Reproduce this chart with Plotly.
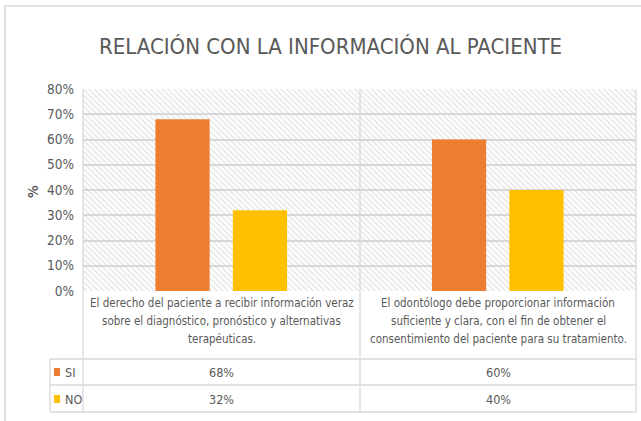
import plotly.graph_objects as go

title = "RELACIÓN CON LA INFORMACIÓN AL PACIENTE"
categories = [
    "El derecho del paciente a recibir información veraz<br>sobre el diagnóstico, pronóstico y alternativas<br>terapéuticas.",
    "El odontólogo debe proporcionar información<br>suficiente y clara, con el fin de obtener el<br>consentimiento del paciente para su tratamiento.",
]
series_names = ["SI", "NO"]
si_values = [0.68, 0.60]
no_values = [0.32, 0.40]
series_values = [si_values, no_values]
series_colors = ["#ED7D31", "#FFC000"]
y_ticks = [0, 0.1, 0.2, 0.3, 0.4, 0.5, 0.6, 0.7, 0.8]
y_max = 0.8

W, H = 641, 421
L, R, T, B = 83, 636, 89, 291
FONT = "DejaVu Sans Condensed, Liberation Sans Narrow, Arial Narrow, sans-serif"
TXT = "#595959"
GRID = "#D9D9D9"

def px(x):
    return (x - L) / (R - L)

def py(y):
    return (B - y) / (B - T)

fig = go.Figure()
# hatched plot-area background
fig.add_trace(go.Bar(
    x=[0.5], y=[y_max], width=[1], xaxis="x", yaxis="y",
    marker=dict(color="rgba(0,0,0,0)", line=dict(width=0),
                pattern=dict(shape="\\", fgcolor="#D0D0D0", bgcolor="rgba(0,0,0,0)",
                             size=4, solidity=0.4)),
    hoverinfo="skip", showlegend=False,
))
for name, vals, col in zip(series_names, series_values, series_colors):
    fig.add_trace(go.Bar(
        x=[0, 1], y=vals, name=name, xaxis="x2", yaxis="y",
        marker=dict(color=col, line=dict(width=0)), showlegend=False,
        hovertemplate="%{y:.0%}<extra>" + name + "</extra>",
    ))

shapes = []
def line(x0, y0, x1, y1, color=GRID, w=1.3):
    shapes.append(dict(type="line", xref="paper", yref="paper",
                       x0=px(x0), y0=py(y0), x1=px(x1), y1=py(y1),
                       line=dict(color=color, width=w), layer="above"))

# chart outer border
shapes.append(dict(type="rect", xref="paper", yref="paper",
                   x0=px(5), y0=py(6), x1=px(720), y1=py(440),
                   line=dict(color=GRID, width=1.5), layer="below"))
# vertical separators
line(L, T, L, 412)
line(360, T, 360, 412)
line(R, T, R, 412)
# table horizontal lines
line(50, 359, R, 359)
line(50, 385, R, 385)
line(50, 412, R, 412)
line(50, 359, 50, 412)

annotations = []
cat_centers = [(L + 360) / 2, (360 + R) / 2]
line_ys = [303, 321, 339]
for c, lab in zip(cat_centers, categories):
    for ly, part in zip(line_ys, lab.split("<br>")):
        annotations.append(dict(xref="paper", yref="paper", x=px(c), y=py(ly),
                                text=part, showarrow=False, xanchor="center", yanchor="middle",
                                font=dict(family=FONT, size=11.5, color=TXT)))
row_y = [372, 399]
for i, (name, vals, col) in enumerate(zip(series_names, series_values, series_colors)):
    ry = row_y[i]
    shapes.append(dict(type="rect", xref="paper", yref="paper",
                       x0=px(54), x1=px(60), y0=py(ry - 4), y1=py(ry + 4),
                       fillcolor=col, line=dict(width=0)))
    annotations.append(dict(xref="paper", yref="paper", x=px(63), y=py(ry),
                            text=name, showarrow=False, xanchor="left", yanchor="middle",
                            font=dict(family=FONT, size=12.5, color=TXT)))
    for c, v in zip(cat_centers, vals):
        annotations.append(dict(xref="paper", yref="paper", x=px(c), y=py(ry),
                                text=f"{round(v * 100)}%", showarrow=False,
                                xanchor="center", yanchor="middle",
                                font=dict(family=FONT, size=12.5, color=TXT)))
# y-axis title
annotations.append(dict(xref="paper", yref="paper", x=px(33), y=py(192), text="<b>%</b>",
                        textangle=-90, showarrow=False, xanchor="center", yanchor="middle",
                        font=dict(family=FONT, size=14, color=TXT)))
# title
annotations.append(dict(xref="paper", yref="paper", x=px(330), y=py(46), text=title,
                        showarrow=False, xanchor="center", yanchor="middle",
                        font=dict(family=FONT, size=22, color=TXT)))

fig.update_layout(
    width=W, height=H,
    margin=dict(l=L, r=W - R, t=T, b=H - B, pad=0),
    paper_bgcolor="white", plot_bgcolor="white",
    barmode="group", bargap=0.44, bargroupgap=0.30,
    xaxis=dict(range=[0, 1], visible=False, fixedrange=True),
    xaxis2=dict(overlaying="x", range=[-0.5, 1.5], visible=False, type="linear"),
    yaxis=dict(range=[0, y_max], tickvals=y_ticks, tickformat=".0%",
               showgrid=True, gridcolor=GRID, gridwidth=1.5, zeroline=False,
               showline=False, ticks="", ticklabelstandoff=8,
               tickfont=dict(family=FONT, size=13.5, color=TXT)),
    shapes=shapes, annotations=annotations, showlegend=False,
)
fig.write_html("out.html", config={"displayModeBar": False},
               post_script="document.body.style.margin='0';")
